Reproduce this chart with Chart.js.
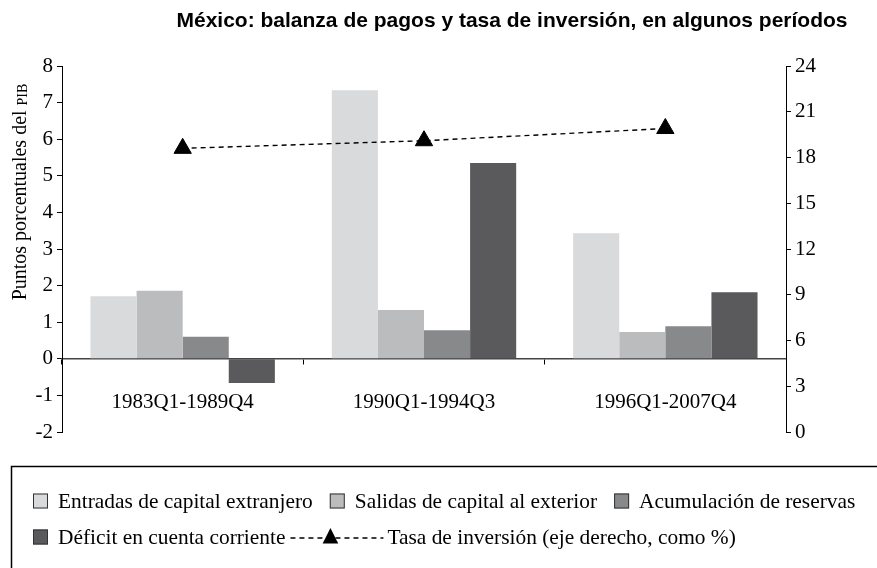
<!DOCTYPE html>
<html>
<head>
<meta charset="utf-8">
<script src="https://cdn.jsdelivr.net/npm/chart.js@4/dist/chart.umd.min.js"></script>
<style>
  html, body { margin: 0; padding: 0; background: #fff; }
  #wrap { width: 877px; height: 568px; position: relative; }
</style>
</head>
<body>
<div id="wrap"><canvas id="c" width="877" height="568"></canvas></div>
<script>
// ---- data ----
const categories = ['1983Q1-1989Q4', '1990Q1-1994Q3', '1996Q1-2007Q4'];
const entradas = [1.71, 7.34, 3.43];
const salidas = [1.86, 1.33, 0.73];
const reservas = [0.60, 0.78, 0.89];
const deficit = [-0.66, 5.35, 1.82];
const tasaInversion = [18.6, 19.1, 19.9];
const seriesNames = [
  'Entradas de capital extranjero',
  'Salidas de capital al exterior',
  'Acumulación de reservas',
  'Déficit en cuenta corriente',
  'Tasa de inversión (eje derecho, como %)'
];
const leftAxisRange = [-2, 8, 1];   // min, max, step
const rightAxisRange = [0, 24, 3];  // min, max, step
const chartTitle = 'México: balanza de pagos y tasa de inversión, en algunos períodos';
const yTitleMain = 'Puntos porcentuales del ';
const yTitleSmallCaps = 'PIB';

// ---- styles ----
const barColors = ['#d9dadc', '#bbbcbe', '#88898b', '#5a5a5c'];
const SERIF = "'Liberation Serif', 'Times New Roman', serif";
const SANS = "'Liberation Sans', Arial, sans-serif";

const extras = {
  id: 'extras',
  afterDraw(chart) {
    const ctx = chart.ctx;
    ctx.save();
    // Title
    ctx.fillStyle = '#000';
    ctx.font = 'bold 21px ' + SANS;
    ctx.textAlign = 'center';
    ctx.textBaseline = 'middle';
    ctx.fillText(chartTitle, 512, 21);

    // Y axis title (rotated)
    ctx.save();
    ctx.translate(21, 192);
    ctx.rotate(-Math.PI / 2);
    ctx.textBaseline = 'middle';
    ctx.textAlign = 'left';
    ctx.font = '20px ' + SERIF;
    const w1 = ctx.measureText(yTitleMain).width;
    ctx.font = '14px ' + SERIF;
    const w2 = ctx.measureText(yTitleSmallCaps).width;
    const start = -(w1 + w2) / 2;
    ctx.font = '20px ' + SERIF;
    ctx.fillText(yTitleMain, start, 0);
    ctx.font = '14px ' + SERIF;
    ctx.fillText(yTitleSmallCaps, start + w1, 2);
    ctx.restore();

    // Legend box
    ctx.strokeStyle = '#000';
    ctx.lineWidth = 1.5;
    ctx.strokeRect(11.5, 466.5, 880, 120);

    ctx.font = '21.4px ' + SERIF;
    ctx.textAlign = 'left';
    ctx.textBaseline = 'middle';
    const sq = 15;
    const drawBoxItem = (x, y, color, text) => {
      ctx.fillStyle = color;
      ctx.fillRect(x, y - sq / 2, sq, sq);
      ctx.strokeStyle = '#333';
      ctx.lineWidth = 1;
      ctx.strokeRect(x + 0.5, y - sq / 2 + 0.5, sq - 1, sq - 1);
      ctx.fillStyle = '#000';
      ctx.fillText(text, x + 25, y + 1);
      return x + 25 + ctx.measureText(text).width;
    };
    const r1 = 501, r2 = 537;
    let x = 33;
    x = drawBoxItem(x, r1, barColors[0], seriesNames[0]);
    x = drawBoxItem(x + 17, r1, barColors[1], seriesNames[1]);
    x = drawBoxItem(x + 17, r1, barColors[2], seriesNames[2]);
    x = drawBoxItem(33, r2, barColors[3], seriesNames[3]);
    // line + triangle item
    const lx0 = x + 5, lx1 = lx0 + 93;
    ctx.strokeStyle = '#000';
    ctx.lineWidth = 1.4;
    ctx.setLineDash([5, 4]);
    ctx.beginPath();
    ctx.moveTo(lx0, r2 + 1);
    ctx.lineTo(lx1, r2 + 1);
    ctx.stroke();
    ctx.setLineDash([]);
    const tcx = lx0 + 40, tr = 9;
    ctx.fillStyle = '#000';
    ctx.beginPath();
    ctx.moveTo(tcx, r2 - tr);
    ctx.lineTo(tcx + tr * 0.866, r2 + tr / 2 + 2);
    ctx.lineTo(tcx - tr * 0.866, r2 + tr / 2 + 2);
    ctx.closePath();
    ctx.fill();
    ctx.fillText(seriesNames[4], lx1 + 4, r2 + 1);
    ctx.restore();
  }
};

const tickFont = { family: SERIF, size: 21 };

new Chart(document.getElementById('c'), {
  data: {
    labels: categories,
    datasets: [
      { type: 'line', label: seriesNames[4], data: tasaInversion, yAxisID: 'y1',
        borderColor: '#000', borderWidth: 1.4, borderDash: [5, 4], fill: false,
        pointStyle: 'triangle', pointRadius: 10, pointHoverRadius: 10,
        pointBackgroundColor: '#000', pointBorderColor: '#000', pointBorderWidth: 1,
        tension: 0, order: 0 },
      { type: 'bar', label: seriesNames[0], data: entradas, backgroundColor: barColors[0], yAxisID: 'y', order: 1 },
      { type: 'bar', label: seriesNames[1], data: salidas, backgroundColor: barColors[1], yAxisID: 'y', order: 1 },
      { type: 'bar', label: seriesNames[2], data: reservas, backgroundColor: barColors[2], yAxisID: 'y', order: 1 },
      { type: 'bar', label: seriesNames[3], data: deficit, backgroundColor: barColors[3], yAxisID: 'y', order: 1 }
    ]
  },
  options: {
    responsive: false,
    animation: false,
    devicePixelRatio: 1,
    layout: { padding: { left: 0, right: 0, top: 66, bottom: 136 } },
    datasets: { bar: { categoryPercentage: 0.764, barPercentage: 1.0, borderWidth: 0 } },
    plugins: { legend: { display: false }, title: { display: false }, tooltip: { enabled: false } },
    scales: {
      x: {
        type: 'category',
        position: { y: 0 },
        offset: true,
        grid: { display: true, offset: true, drawOnChartArea: false, drawTicks: true, tickLength: 5, color: '#000', lineWidth: 1 },
        border: { display: true, color: '#444', width: 1.5 },
        ticks: { font: tickFont, color: '#000', padding: 26, maxRotation: 0, autoSkip: false }
      },
      y: {
        position: 'left',
        min: leftAxisRange[0], max: leftAxisRange[1],
        ticks: { stepSize: leftAxisRange[2], font: tickFont, color: '#000', padding: 4 },
        grid: { drawOnChartArea: false, drawTicks: true, tickLength: 5, color: '#000' },
        border: { display: true, color: '#000', width: 1 },
        afterFit(s) { s.width = 62; }
      },
      y1: {
        position: 'right',
        min: rightAxisRange[0], max: rightAxisRange[1],
        ticks: { stepSize: rightAxisRange[2], font: tickFont, color: '#000', padding: 4 },
        grid: { drawOnChartArea: false, drawTicks: true, tickLength: 5, color: '#000' },
        border: { display: true, color: '#000', width: 1 },
        afterFit(s) { s.width = 91; }
      }
    }
  },
  plugins: [extras]
});
</script>
</body>
</html>
